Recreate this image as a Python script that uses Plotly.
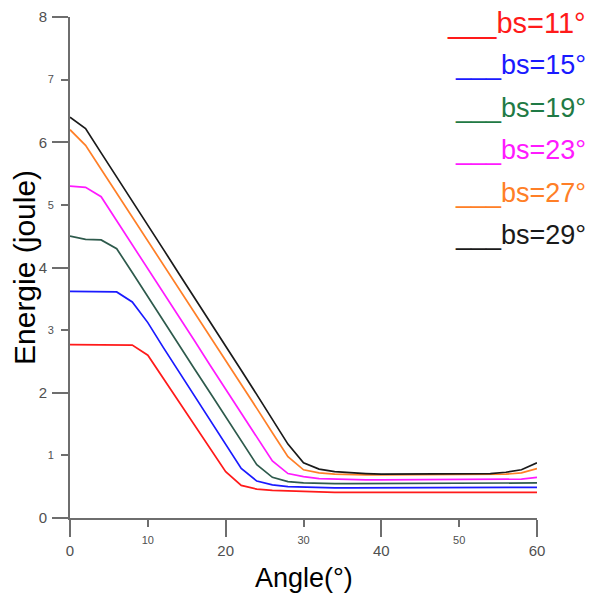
import plotly.graph_objects as go

angle = [0, 2, 4, 6, 8, 10, 12, 14, 16, 18, 20, 22, 24, 26, 28, 30,
         32, 34, 36, 38, 40, 42, 44, 46, 48, 50, 52, 54, 56, 58, 60]

e_bs11 = [2.77, 2.77, 2.77, 2.77, 2.76, 2.60, 2.23, 1.85, 1.47, 1.10, 0.74, 0.52, 0.46, 0.44, 0.43, 0.42,
          0.42, 0.41, 0.41, 0.41, 0.41, 0.41, 0.41, 0.41, 0.41, 0.41, 0.41, 0.41, 0.41, 0.41, 0.41]
e_bs15 = [3.62, 3.62, 3.61, 3.61, 3.45, 3.12, 2.72, 2.33, 1.94, 1.55, 1.17, 0.79, 0.59, 0.53, 0.50, 0.49,
          0.48, 0.48, 0.48, 0.48, 0.48, 0.48, 0.48, 0.48, 0.48, 0.48, 0.48, 0.48, 0.48, 0.48, 0.49]
e_bs19 = [4.50, 4.45, 4.44, 4.30, 3.92, 3.53, 3.15, 2.77, 2.38, 2.00, 1.62, 1.23, 0.85, 0.65, 0.58, 0.56,
          0.55, 0.55, 0.55, 0.55, 0.55, 0.55, 0.55, 0.55, 0.55, 0.55, 0.55, 0.55, 0.55, 0.55, 0.56]
e_bs23 = [5.30, 5.28, 5.13, 4.75, 4.36, 3.98, 3.60, 3.21, 2.83, 2.44, 2.06, 1.68, 1.29, 0.91, 0.71, 0.66,
          0.63, 0.62, 0.61, 0.61, 0.61, 0.61, 0.61, 0.61, 0.61, 0.61, 0.61, 0.61, 0.61, 0.62, 0.65]
e_bs27 = [6.20, 5.95, 5.57, 5.19, 4.80, 4.42, 4.04, 3.66, 3.27, 2.89, 2.51, 2.13, 1.75, 1.36, 0.98, 0.77,
          0.72, 0.70, 0.69, 0.69, 0.69, 0.69, 0.69, 0.69, 0.69, 0.69, 0.69, 0.69, 0.70, 0.72, 0.79]
e_bs29 = [6.40, 6.22, 5.83, 5.45, 5.06, 4.68, 4.29, 3.90, 3.52, 3.13, 2.74, 2.36, 1.97, 1.58, 1.18, 0.88,
          0.78, 0.74, 0.72, 0.71, 0.70, 0.70, 0.70, 0.70, 0.70, 0.70, 0.70, 0.71, 0.73, 0.77, 0.88]

series_names = ["bs=11°", "bs=15°", "bs=19°", "bs=23°", "bs=27°", "bs=29°"]
series_values = [e_bs11, e_bs15, e_bs19, e_bs23, e_bs27, e_bs29]
line_colors = ["#ff1a1a", "#1a1aff", "#2e5a4c", "#ff1aff", "#ff7f27", "#1a1a1a"]
text_colors = ["#ff1a1a", "#1a1aff", "#1f7a45", "#ff1aff", "#ff7f27", "#1a1a1a"]
label_sizes = [29, 27, 27, 27, 27, 27]

x_major = [0, 20, 40, 60]
x_minor = [10, 30, 50]
y_major = [0, 2, 4, 6, 8]
y_minor = [1, 3, 5, 7]

FONT = "Liberation Sans, Arial, sans-serif"
AX = "#6e6e6e"
TK = "#505050"

# plot area in pixels
L, R, T, B = 70, 53, 17, 77
W, H = 590, 595
PW, PH = W - L - R, H - T - B

def px(xp):
    return (xp - L) / PW

def py(yp):
    return (H - B - yp) / PH

fig = go.Figure()
for name, vals, col in zip(series_names, series_values, line_colors):
    fig.add_trace(go.Scatter(x=angle, y=vals, mode="lines", name=name,
                             line=dict(color=col, width=1.7), showlegend=False))
# empty trace to bind the minor-tick overlay axes
fig.add_trace(go.Scatter(x=[], y=[], xaxis="x2", yaxis="y2", showlegend=False, hoverinfo="skip"))

for i, (name, col, sz) in enumerate(zip(series_names, text_colors, label_sizes)):
    fig.add_annotation(x=px(588), y=py(23 + 42.4 * i), xref="paper", yref="paper",
                       text="___" + name, showarrow=False, xanchor="right", yanchor="middle",
                       font=dict(family=FONT, size=sz, color=col))

fig.add_annotation(x=px(304), y=py(578), xref="paper", yref="paper", text="Angle(°)",
                   showarrow=False, xanchor="center", yanchor="middle",
                   font=dict(family=FONT, size=27, color="black"))
fig.add_annotation(x=px(24), y=py(268), xref="paper", yref="paper", text="Energie (joule)",
                   showarrow=False, xanchor="center", yanchor="middle", textangle=-90,
                   font=dict(family=FONT, size=30, color="black"))

fig.update_layout(
    width=W, height=H,
    margin=dict(l=L, r=R, t=T, b=B, autoexpand=False),
    paper_bgcolor="white", plot_bgcolor="white",
    font=dict(family=FONT),
    xaxis=dict(range=[0, 60], tickmode="array", tickvals=x_major, ticks="outside", ticklen=17,
               tickwidth=2, tickcolor=AX, showline=True, linecolor=AX, linewidth=2,
               showgrid=False, zeroline=False, tickfont=dict(size=15, color=TK), automargin=False,
               ticklabelstandoff=1),
    xaxis2=dict(range=[0, 60], overlaying="x", anchor="y", side="bottom", tickmode="array",
                tickvals=x_minor, ticks="outside", ticklen=8, tickwidth=2, tickcolor=AX,
                showline=False, showgrid=False, zeroline=False, tickfont=dict(size=11, color=TK),
                automargin=False, ticklabelstandoff=4),
    yaxis=dict(range=[0, 8], tickmode="array", tickvals=y_major, ticks="outside", ticklen=16,
               tickwidth=2, tickcolor=AX, showline=True, linecolor=AX, linewidth=2,
               showgrid=False, zeroline=False, tickfont=dict(size=15, color=TK), automargin=False,
               ticklabelstandoff=2),
    yaxis2=dict(range=[0, 8], overlaying="y", anchor="x", side="left", tickmode="array",
                tickvals=y_minor, ticks="outside", ticklen=8, tickwidth=2, tickcolor=AX,
                showline=False, showgrid=False, zeroline=False, tickfont=dict(size=11, color=TK),
                automargin=False, ticklabelstandoff=5),
)

fig.write_html("out.html", config={"displayModeBar": False},
               post_script="document.body.style.margin='0';")
